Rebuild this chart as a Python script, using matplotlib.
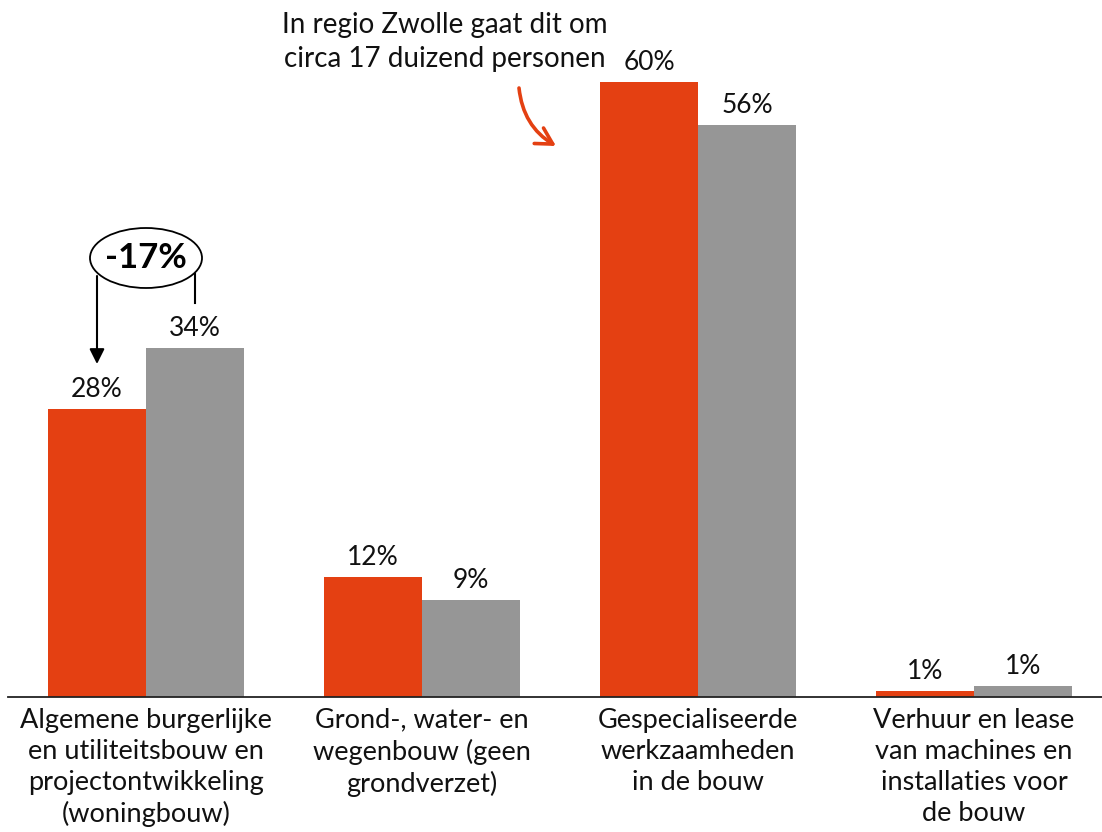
import matplotlib
matplotlib.use("Agg")
import matplotlib.pyplot as plt
from matplotlib.patches import Ellipse, FancyArrowPatch
import numpy as np

plt.rcParams['font.family'] = ['Lato', 'DejaVu Sans']

categories = [
    "Algemene burgerlijke\nen utiliteitsbouw en\nprojectontwikkeling\n(woningbouw)",
    "Grond-, water- en\nwegenbouw (geen\ngrondverzet)",
    "Gespecialiseerde\nwerkzaamheden\nin de bouw",
    "Verhuur en lease\nvan machines en\ninstallaties voor\nde bouw",
]
series_a = [28.1, 11.7, 60.0, 0.5]      # orange
series_b = [34.0, 9.4, 55.8, 1.0]       # gray
labels_a = ["28%", "12%", "60%", "1%"]
labels_b = ["34%", "9%", "56%", "1%"]

ORANGE = "#E44012"
GRAY = "#969696"

W, H = 1102, 832
fig = plt.figure(figsize=(W / 100, H / 100), dpi=100)
base_px = 696.5
ax = fig.add_axes([8 / W, (H - base_px) / H, (W - 8) / W, base_px / H])
ppu = 10.247
ax.set_ylim(0, base_px / ppu)
ax.set_xlim(-0.5, (W - 146) / 276)

x = np.arange(len(categories))
bw = 98 / 276
ba = ax.bar(x - bw / 2, series_a, width=bw, color=ORANGE, linewidth=0)
bb = ax.bar(x + bw / 2, series_b, width=bw, color=GRAY, linewidth=0)

for rects, labs in ((ba, labels_a), (bb, labels_b)):
    for r, lab in zip(rects, labs):
        ax.annotate(lab, (r.get_x() + r.get_width() / 2, r.get_height()),
                    xytext=(0, 5), textcoords="offset points",
                    ha="center", va="bottom", fontsize=19, color="#111111")

for s in ("top", "right", "left"):
    ax.spines[s].set_visible(False)
ax.spines["bottom"].set_linewidth(1.3)
ax.spines["bottom"].set_color("#222222")
ax.set_yticks([])
ax.set_xticks(x)
ax.set_xticklabels(categories, fontsize=19.5, linespacing=1.3, color="#111111")
ax.tick_params(axis="x", length=0, pad=8)

# -17% annotation
def px(xp, yp):
    return ((xp - 8) / (W - 8) * (ax.get_xlim()[1] - ax.get_xlim()[0]) + ax.get_xlim()[0],
            (base_px - yp) / ppu)

cx, cy = px(146, 258)
ell = Ellipse((cx, cy), width=112 / 276, height=60 / ppu, facecolor="white",
              edgecolor="black", linewidth=1.3, zorder=5)
ax.add_patch(ell)
ax.text(cx, cy, "-17%", ha="center", va="center", fontsize=25, fontweight="bold", zorder=6)
x1, y1 = px(97, 276)
x2, y2 = px(97, 364)
ax.annotate("", xy=(x2, y2), xytext=(x1, y1),
            arrowprops=dict(arrowstyle="-|>,head_length=0.9,head_width=0.45",
                            color="black", lw=1.5, shrinkA=0, shrinkB=0), zorder=4)
x3, y3 = px(195, 274)
x4, y4 = px(195, 303)
ax.plot([x3, x4], [y3, y4], color="black", lw=1.5, zorder=4)

# Zwolle annotation
fig.text(445 / W, 1 - 42 / H, "In regio Zwolle gaat dit om\ncirca 17 duizend personen",
         ha="center", va="center", fontsize=20, linespacing=1.42, color="#111111")
a1 = px(519, 88)
a2 = px(556, 146)
arr = FancyArrowPatch(a1, a2, connectionstyle="arc3,rad=0.25",
                      arrowstyle="->,head_length=9,head_width=5",
                      color=ORANGE, lw=2.6, mutation_scale=1.3,
                      shrinkA=0, shrinkB=0)
ax.add_patch(arr)

fig.savefig("out.png", dpi=100)
